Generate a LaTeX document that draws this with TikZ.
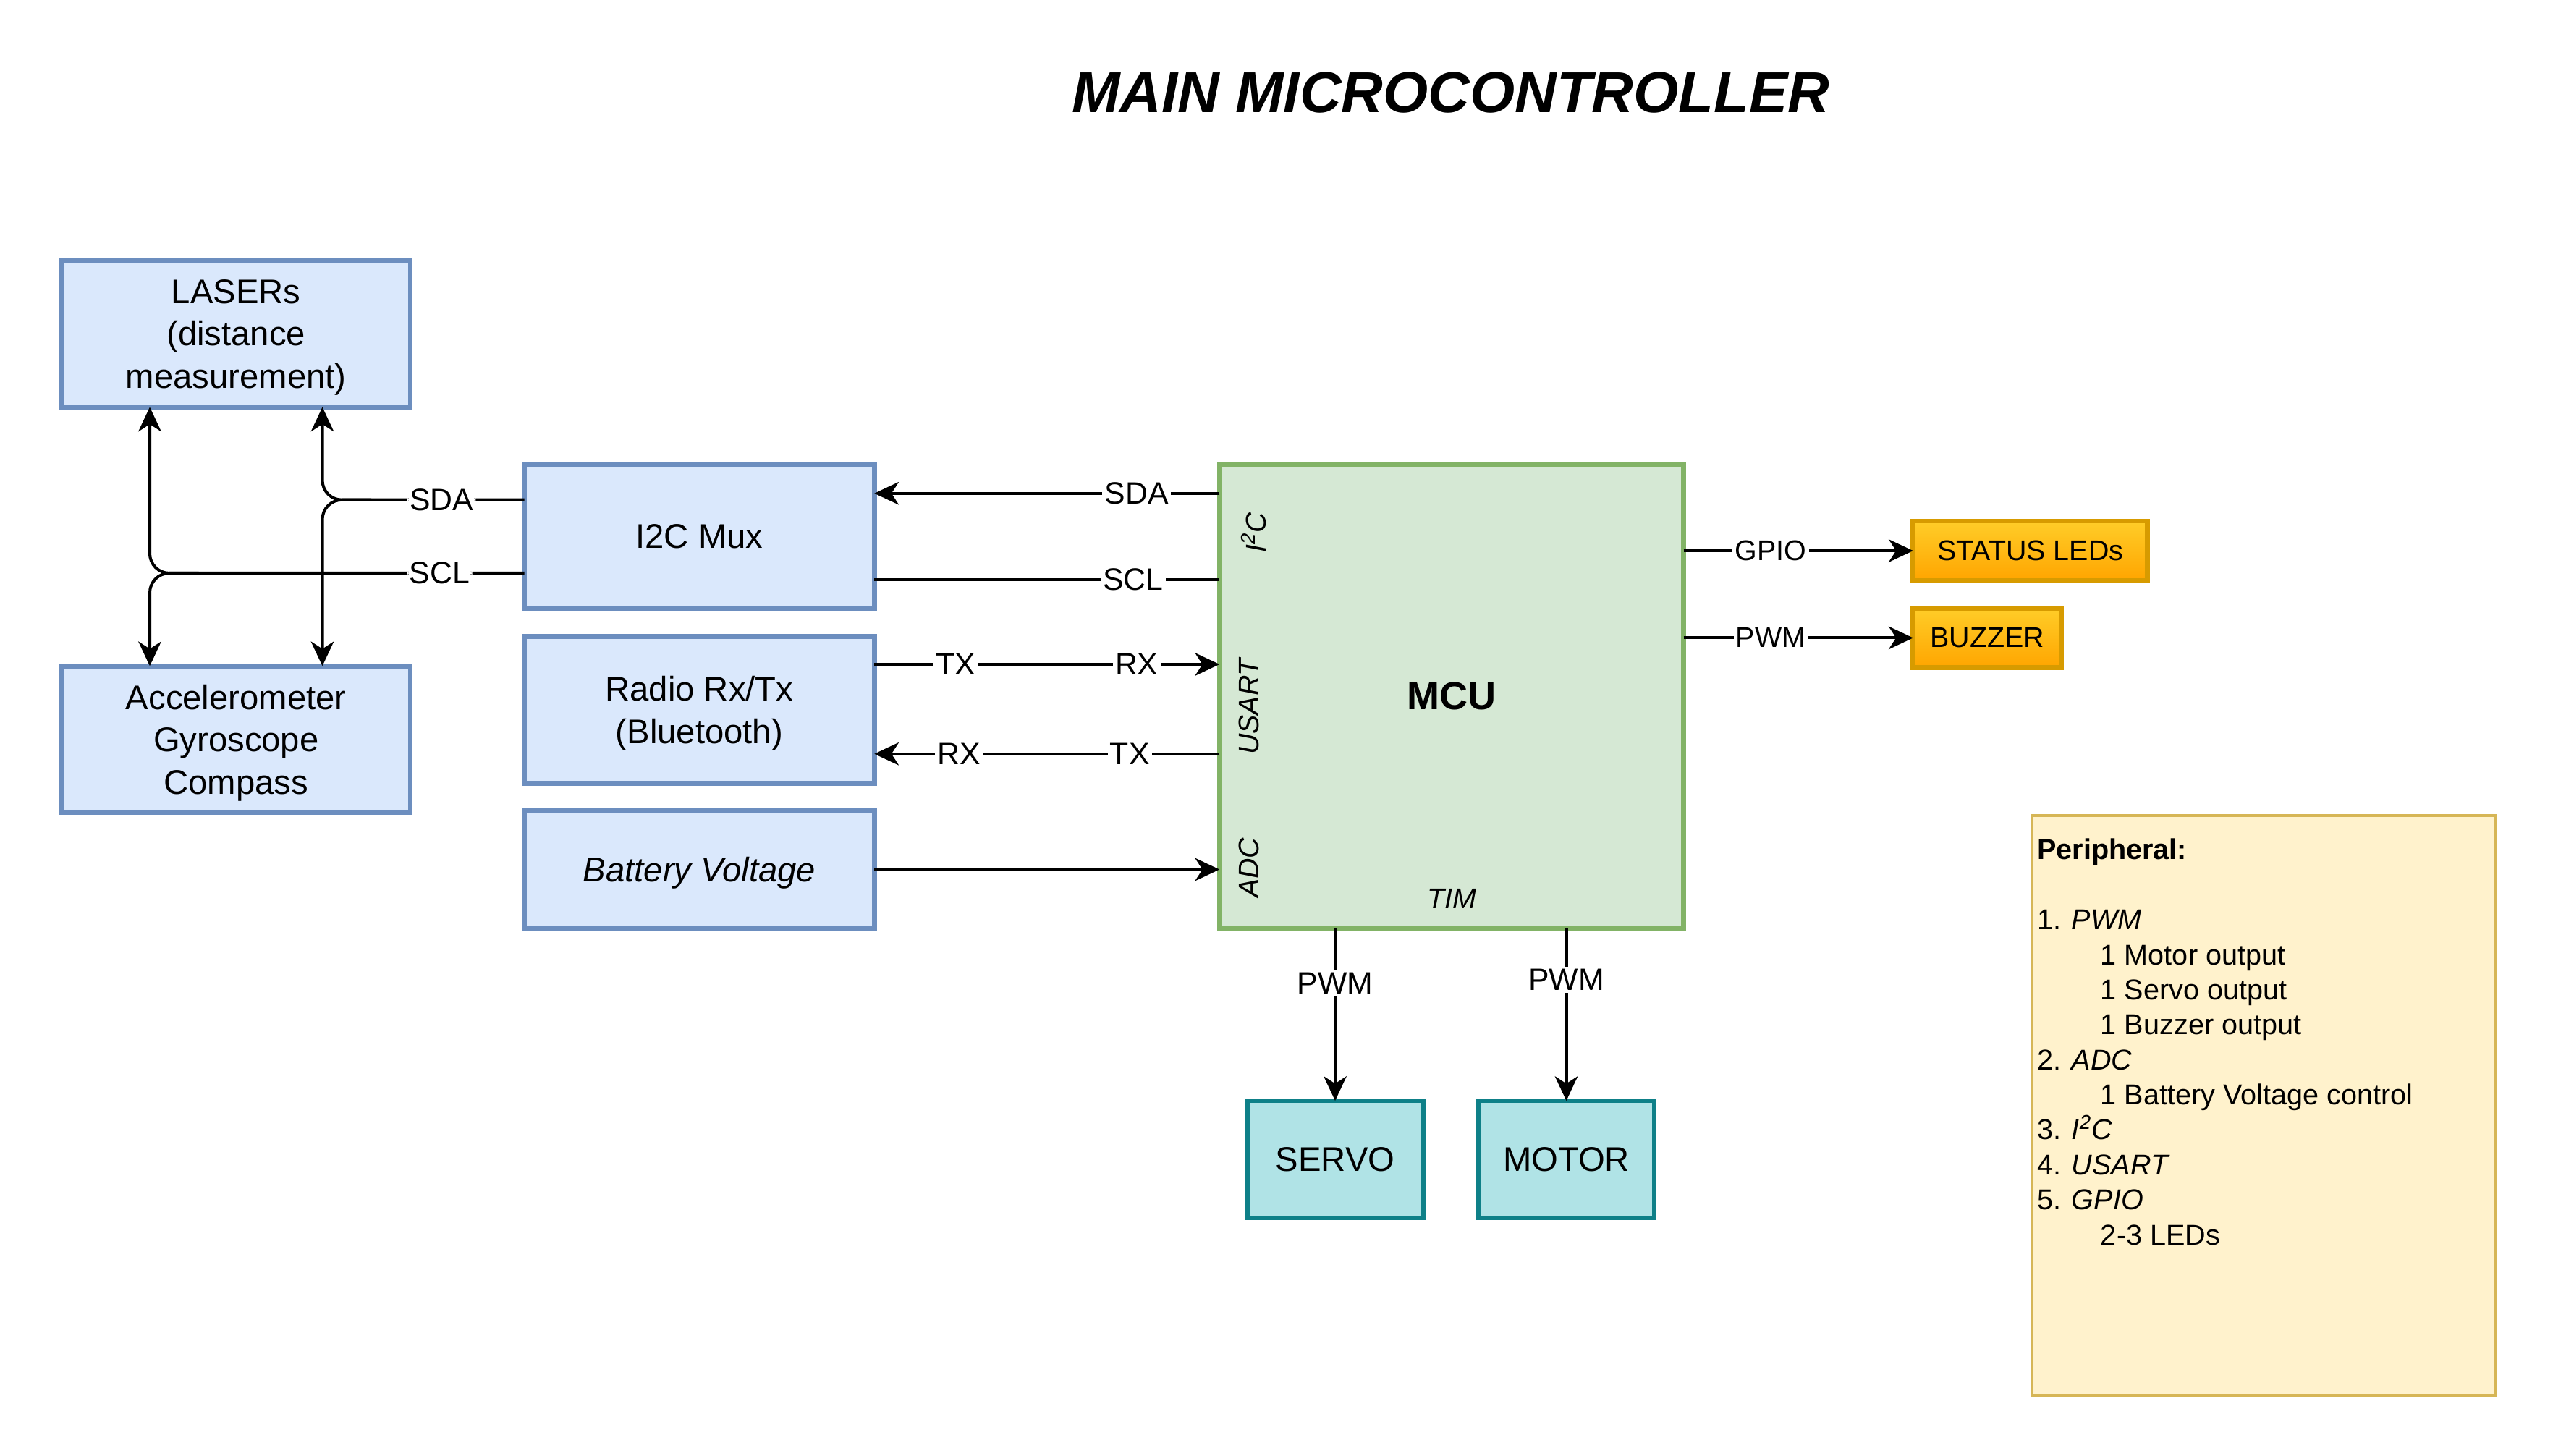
\documentclass[tikz,border=0pt]{standalone}
\usepackage{fontspec}
\setmainfont{Liberation Sans}
\usetikzlibrary{arrows.meta,positioning,calc}
\definecolor{blockfill}{HTML}{DAE8FC}
\definecolor{blockline}{HTML}{6C8EBF}
\definecolor{mcufill}{HTML}{D5E8D4}
\definecolor{mculine}{HTML}{82B366}
\definecolor{ledtop}{HTML}{FFCD28}
\definecolor{ledbottom}{HTML}{FFA500}
\definecolor{ledline}{HTML}{D79B00}
\definecolor{drivefill}{HTML}{B0E3E6}
\definecolor{driveline}{HTML}{0E8088}
\definecolor{notefill}{HTML}{FFF2CC}
\definecolor{noteline}{HTML}{D6B656}

\begin{document}
\begin{tikzpicture}[
  x=1pt, y=1pt,
  >={Stealth[length=15pt, width=14pt, inset=4.5pt]},
  sensorblock/.style={
    draw=blockline,
    fill=blockfill,
    line width=3pt,
    minimum width=214pt,
    minimum height=90pt,
    inner sep=0pt,
    outer sep=0pt,
    align=center,
    text depth=0pt,
    font=\fontsize{21}{26}\selectfont
  },
  mcublock/.style={
    draw=mculine,
    fill=mcufill,
    line width=3pt,
    minimum width=285pt,
    minimum height=285pt,
    inner sep=0pt,
    outer sep=0pt
  },
  statusblock/.style={
    draw=ledline,
    top color=ledtop,
    bottom color=ledbottom,
    line width=3pt,
    minimum height=36.5pt,
    inner sep=0pt,
    outer sep=0pt,
    font=\fontsize{17.5}{21}\selectfont
  },
  driveblock/.style={
    draw=driveline,
    fill=drivefill,
    line width=3pt,
    minimum width=108pt,
    minimum height=72pt,
    inner sep=0pt,
    outer sep=0pt,
    font=\fontsize{21}{26}\selectfont
  },
  busline/.style={
    line width=1.8pt,
    draw=black
  },
  busarrow/.style={
    ->,
    busline
  },
  buslabel/.style={
    fill=white,
    inner sep=1.5pt,
    font=\fontsize{19}{22}\selectfont
  },
  portlabel/.style={
    rotate=90,
    inner sep=0pt,
    font=\fontsize{17.5}{21}\selectfont\itshape
  }
]

  \useasboundingbox (0,0) rectangle (1568,-894);

  % Title
  \node[font=\fontsize{35.5}{40}\selectfont\bfseries\itshape] (title) at (891,-57) {MAIN MICROCONTROLLER};

  % --- MCU ---
  \node[mcublock] (mcu) at (891.5,-427.5) {};
  \node[font=\fontsize{24}{28}\selectfont\bfseries] (mcuname) at (mcu) {MCU};
  \node[portlabel] (i2cport) at ($(mcu.west)+(21,100.5)$) {I\textsuperscript{2}C};
  \node[portlabel] (usartport) at ($(mcu.west)+(18,-6.5)$) {USART};
  \node[portlabel] (adcport) at ($(mcu.west)+(18,-105.5)$) {ADC};
  \node[portlabel, rotate=-90] (timport) at ($(mcu.south)+(0,18)$) {TIM};

  % --- LEFT COLUMN: mux, radio, battery ---
  \node[sensorblock, minimum width=215pt, minimum height=89pt, left=212pt of mcu.north west, anchor=north east] (mux) {I2C Mux};
  \node[sensorblock, minimum width=215pt, below=17pt of mux] (radio) {Radio Rx/Tx\\(Bluetooth)};
  \node[sensorblock, minimum width=215pt, minimum height=72pt, below=17pt of radio] (batt) {\itshape Battery Voltage};

  % --- SENSORS ---
  \node[sensorblock, above left=35pt and 70pt of mux.north west, anchor=south east] (laser) {LASERs\\(distance\\measurement)};
  \node[sensorblock, below=159pt of laser] (accel) {Accelerometer\\Gyroscope\\Compass};

  % --- OUTPUTS ---
  \node[statusblock, minimum width=144pt, below right=35pt and 141pt of mcu.north east, anchor=north west] (leds) {STATUS LEDs};
  \node[statusblock, minimum width=91pt, below=17pt of leds.south west, anchor=north west] (buzzer) {BUZZER};
  \node[driveblock, below right=106pt and 17pt of mcu.south west, anchor=north west] (servo) {SERVO};
  \node[driveblock, right=34pt of servo] (motor) {MOTOR};

  % Peripheral note
  \node[draw=noteline, fill=notefill, line width=1.8pt, minimum width=285pt, minimum height=356pt, inner sep=0pt, anchor=north west] (note) at (1247,-500) {};
  \node[anchor=north west, align=left, inner sep=0pt, font=\fontsize{17.6}{21.5}\selectfont] (notetext) at (1251,-515) {
    \textbf{Peripheral:}\\[21.5pt]
    1. \textit{PWM}\\
    \hspace*{39pt}1 Motor output\\
    \hspace*{39pt}1 Servo output\\
    \hspace*{39pt}1 Buzzer output\\
    2. \textit{ADC}\\
    \hspace*{39pt}1 Battery Voltage control\\
    3. \textit{I\textsuperscript{2}C}\\
    4. \textit{USART}\\
    5. \textit{GPIO}\\
    \hspace*{39pt}2-3 LEDs
  };

  % Bus coordinates
  \coordinate (sdaR) at ($(mux.east)+(0,26.5)$);
  \coordinate (sclR) at ($(mux.east)+(0,-26.5)$);
  \coordinate (txR) at ($(radio.east)+(0,28)$);
  \coordinate (rxR) at ($(radio.east)+(0,-27)$);
  \coordinate (sdaL) at ($(mux.west)+(0,22.5)$);
  \coordinate (sclL) at ($(mux.west)+(0,-22.5)$);
  \coordinate (sdaT) at ($(laser.south)+(53,0)$);
  \coordinate (sclT) at ($(laser.south)+(-53,0)$);
  \coordinate (sdaK) at (sdaL -| sdaT);
  \coordinate (sclK) at (sclL -| sclT);

  % MCU <-> left column
  \draw[busarrow] (mcu.west |- sdaR) -- node[buslabel, pos=0.24] {SDA} (sdaR);
  \draw[busline] (sclR) -- node[buslabel, pos=0.75] {SCL} (mcu.west |- sclR);
  \draw[busarrow] (txR) -- node[buslabel, pos=0.236] {TX} node[buslabel, pos=0.76] {RX} (mcu.west |- txR);
  \draw[busarrow] (mcu.west |- rxR) -- node[buslabel, pos=0.26] {TX} node[buslabel, pos=0.755] {RX} (rxR);
  \draw[busarrow] (batt.east) -- (mcu.west |- batt.east);

  % I2C bus to the sensors
  \draw[busarrow, rounded corners=12pt] ($(sdaK)+(30,0)$) -- (sdaK) -- (accel.north -| sdaK);
  \draw[busarrow, rounded corners=12pt] (sdaL) -- node[buslabel, pos=0.41] {SDA} (sdaK) -- (sdaT);
  \draw[busarrow, rounded corners=12pt] ($(sclK)+(30,0)$) -- (sclK) -- (accel.north -| sclK);
  \draw[busarrow, rounded corners=12pt] (sclL) -- node[buslabel, pos=0.226] {SCL} (sclK) -- (sclT);

  % MCU outputs
  \draw[busarrow] (mcu.east |- leds) -- node[buslabel, pos=0.38, font=\fontsize{17.5}{21}\selectfont] {GPIO} (leds.west);
  \draw[busarrow] (mcu.east |- buzzer) -- node[buslabel, pos=0.38, font=\fontsize{17.5}{21}\selectfont] {PWM} (buzzer.west);
  \draw[busarrow] (mcu.south -| servo) -- node[buslabel, pos=0.32] {PWM} (servo.north);
  \draw[busarrow] (mcu.south -| motor) -- node[buslabel, pos=0.30] {PWM} (motor.north);

\end{tikzpicture}
\end{document}
